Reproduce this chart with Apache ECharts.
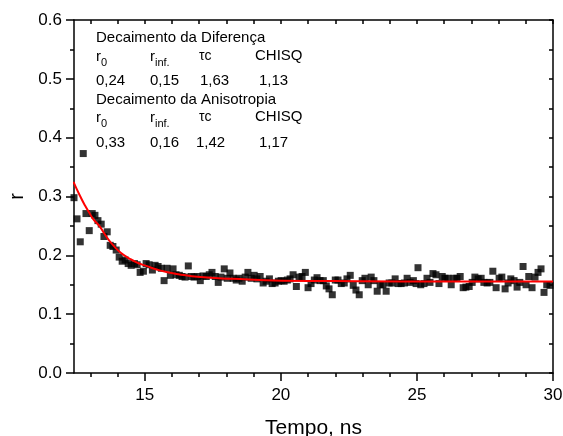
<!DOCTYPE html>
<html>
<head>
<meta charset="utf-8">
<script src="https://cdn.jsdelivr.net/npm/echarts@6/dist/echarts.min.js"></script>
<style>html,body{margin:0;padding:0;background:#fff;}#c{width:563px;height:436px;}</style>
</head>
<body>
<div id="c"></div>
<script>
var timeNs = [12.40,12.51,12.63,12.74,12.84,12.96,13.07,13.17,13.28,13.40,13.50,13.62,13.73,13.83,13.95,14.06,14.17,14.28,14.39,14.50,14.62,14.72,14.83,14.95,15.05,15.16,15.28,15.38,15.49,15.61,15.71,15.82,15.94,16.04,16.15,16.27,16.37,16.48,16.60,16.71,16.81,16.93,17.04,17.14,17.26,17.37,17.47,17.59,17.70,17.80,17.92,18.03,18.13,18.25,18.36,18.46,18.58,18.69,18.79,18.91,19.02,19.12,19.24,19.35,19.46,19.58,19.68,19.79,19.91,20.01,20.12,20.24,20.34,20.45,20.57,20.67,20.78,20.90,21.00,21.11,21.23,21.33,21.44,21.56,21.67,21.77,21.89,22.00,22.10,22.22,22.33,22.43,22.55,22.66,22.76,22.88,22.99,23.09,23.21,23.32,23.42,23.54,23.65,23.75,23.87,23.98,24.08,24.20,24.31,24.42,24.54,24.64,24.75,24.87,24.97,25.04,25.14,25.26,25.37,25.48,25.59,25.70,25.81,25.93,26.03,26.14,26.26,26.36,26.47,26.59,26.70,26.80,26.92,27.03,27.13,27.25,27.36,27.46,27.58,27.68,27.79,27.91,28.02,28.12,28.24,28.35,28.45,28.57,28.68,28.78,28.90,29.01,29.11,29.23,29.34,29.45,29.56,29.67,29.77,29.89];
var rValues = [0.298,0.262,0.223,0.373,0.271,0.242,0.271,0.268,0.259,0.253,0.232,0.240,0.217,0.215,0.209,0.197,0.190,0.192,0.186,0.183,0.186,0.184,0.171,0.173,0.186,0.184,0.175,0.183,0.181,0.178,0.157,0.178,0.166,0.177,0.167,0.166,0.164,0.163,0.182,0.164,0.163,0.164,0.157,0.165,0.164,0.167,0.171,0.164,0.154,0.163,0.177,0.161,0.170,0.161,0.158,0.161,0.156,0.163,0.171,0.161,0.166,0.160,0.164,0.153,0.156,0.160,0.152,0.153,0.156,0.157,0.156,0.158,0.160,0.167,0.147,0.163,0.164,0.171,0.145,0.152,0.158,0.162,0.157,0.157,0.148,0.143,0.133,0.158,0.158,0.152,0.153,0.160,0.166,0.149,0.141,0.133,0.157,0.161,0.150,0.163,0.157,0.139,0.150,0.150,0.139,0.153,0.153,0.160,0.152,0.152,0.153,0.161,0.154,0.157,0.152,0.179,0.150,0.152,0.161,0.154,0.169,0.167,0.152,0.164,0.161,0.161,0.150,0.161,0.161,0.164,0.145,0.146,0.147,0.154,0.163,0.160,0.161,0.154,0.153,0.154,0.173,0.145,0.161,0.163,0.143,0.153,0.160,0.157,0.146,0.154,0.181,0.150,0.164,0.145,0.163,0.171,0.177,0.137,0.150,0.149];
var fitTime = [12.38,12.60,12.80,12.94,13.10,13.33,13.50,13.68,13.90,14.13,14.42,14.70,15.05,15.58,16.24,17.04,18.23,20.03,22.86,26.00,30.00];
var fitR = [0.325,0.303,0.285,0.274,0.262,0.250,0.238,0.226,0.214,0.204,0.195,0.188,0.182,0.174,0.168,0.163,0.160,0.157,0.156,0.1555,0.1555];
var xLabels = [15,20,25,30];
var xMinorTicks = [13,14,16,17,18,19,21,22,23,24,26,27,28,29];
var xAllTicks = [13,14,15,16,17,18,19,20,21,22,23,24,25,26,27,28,29,30];

var FONT = 'Liberation Sans, Arial, sans-serif';
var chart = echarts.init(document.getElementById('c'), null, {renderer:'canvas'});
var scatterData = timeNs.map(function(t,i){return [t, rValues[i]];});
var fitData = fitTime.map(function(t,i){return [t, fitR[i]];});
var lineStyle = {color:'#000', width:1.5};
var base = {type:'value', min:12.4, max:30, splitLine:{show:false}};

function txt(x,y,s,size){
  return {type:'text', x:x, y:y, style:{text:s, fill:'#000', font: size+'px '+FONT, textVerticalAlign:'middle'}};
}
var graphics = [
  txt(96,38,'Decaimento da Diferença',15),
  txt(96,57,'r',15), txt(101,63,'0',11),
  txt(150,57,'r',15), txt(155,63,'inf.',11),
  txt(199,56,'τc',14),
  txt(255,56,'CHISQ',15),
  txt(96,81,'0,24',15), txt(150,81,'0,15',15), txt(200,81,'1,63',15), txt(259,81,'1,13',15),
  txt(96,100,'Decaimento da Anisotropia',15),
  txt(96,118,'r',15), txt(101,124,'0',11),
  txt(150,118,'r',15), txt(155,124,'inf.',11),
  txt(199,117,'τc',14),
  txt(255,117,'CHISQ',15),
  txt(96,143,'0,33',15), txt(150,143,'0,16',15), txt(196,143,'1,42',15), txt(259,143,'1,17',15)
];

chart.setOption({
  animation:false,
  backgroundColor:'#fff',
  grid:{left:74, right:10, top:20, bottom:63, containLabel:false, outerBoundsMode:'none'},
  xAxis:[
    Object.assign({}, base, {position:'bottom', axisLine:{lineStyle:lineStyle, onZero:false},
      axisTick:{show:true, customValues:xLabels, length:8, lineStyle:lineStyle},
      axisLabel:{customValues:xLabels, color:'#000', fontSize:17, fontFamily:FONT, margin:14},
      name:'Tempo, ns', nameLocation:'middle', nameGap:45, nameTextStyle:{color:'#000', fontSize:21, fontFamily:FONT}}),
    Object.assign({}, base, {position:'bottom', axisLine:{show:false, onZero:false},
      axisTick:{show:true, customValues:xMinorTicks, length:4, lineStyle:lineStyle},
      axisLabel:{show:false, customValues:xMinorTicks}}),
    Object.assign({}, base, {position:'top', axisLine:{lineStyle:lineStyle, onZero:false},
      axisTick:{show:true, inside:true, customValues:xAllTicks, length:4, lineStyle:lineStyle},
      axisLabel:{show:false, customValues:xAllTicks}})
  ],
  yAxis:[
    {type:'value', min:0, max:0.6, interval:0.1, position:'left', splitLine:{show:false},
      axisLine:{show:true, lineStyle:lineStyle, onZero:false},
      axisTick:{show:true, length:8, lineStyle:lineStyle},
      minorTick:{show:true, splitNumber:2, length:4, lineStyle:lineStyle},
      axisLabel:{color:'#000', fontSize:17, fontFamily:FONT, margin:12, formatter:function(v){return v.toFixed(1);}},
      name:'r', nameLocation:'middle', nameGap:47, nameTextStyle:{color:'#000', fontSize:20, fontFamily:FONT}},
    {type:'value', min:0, max:0.6, interval:0.1, position:'right', splitLine:{show:false},
      axisLine:{show:true, lineStyle:lineStyle, onZero:false},
      axisTick:{show:true, inside:true, length:4, lineStyle:lineStyle},
      minorTick:{show:true, splitNumber:2, length:4, lineStyle:lineStyle},
      axisLabel:{show:false}}
  ],
  series:[
    {type:'scatter', xAxisIndex:0, yAxisIndex:0, data:scatterData, symbol:'rect', symbolSize:7,
      itemStyle:{color:'#000'}, z:2},
    {type:'line', xAxisIndex:0, yAxisIndex:0, data:fitData, smooth:true, showSymbol:false, symbol:'none',
      lineStyle:{color:'#ff0000', width:2}, z:3}
  ],
  graphic:graphics
});
</script>
</body>
</html>
